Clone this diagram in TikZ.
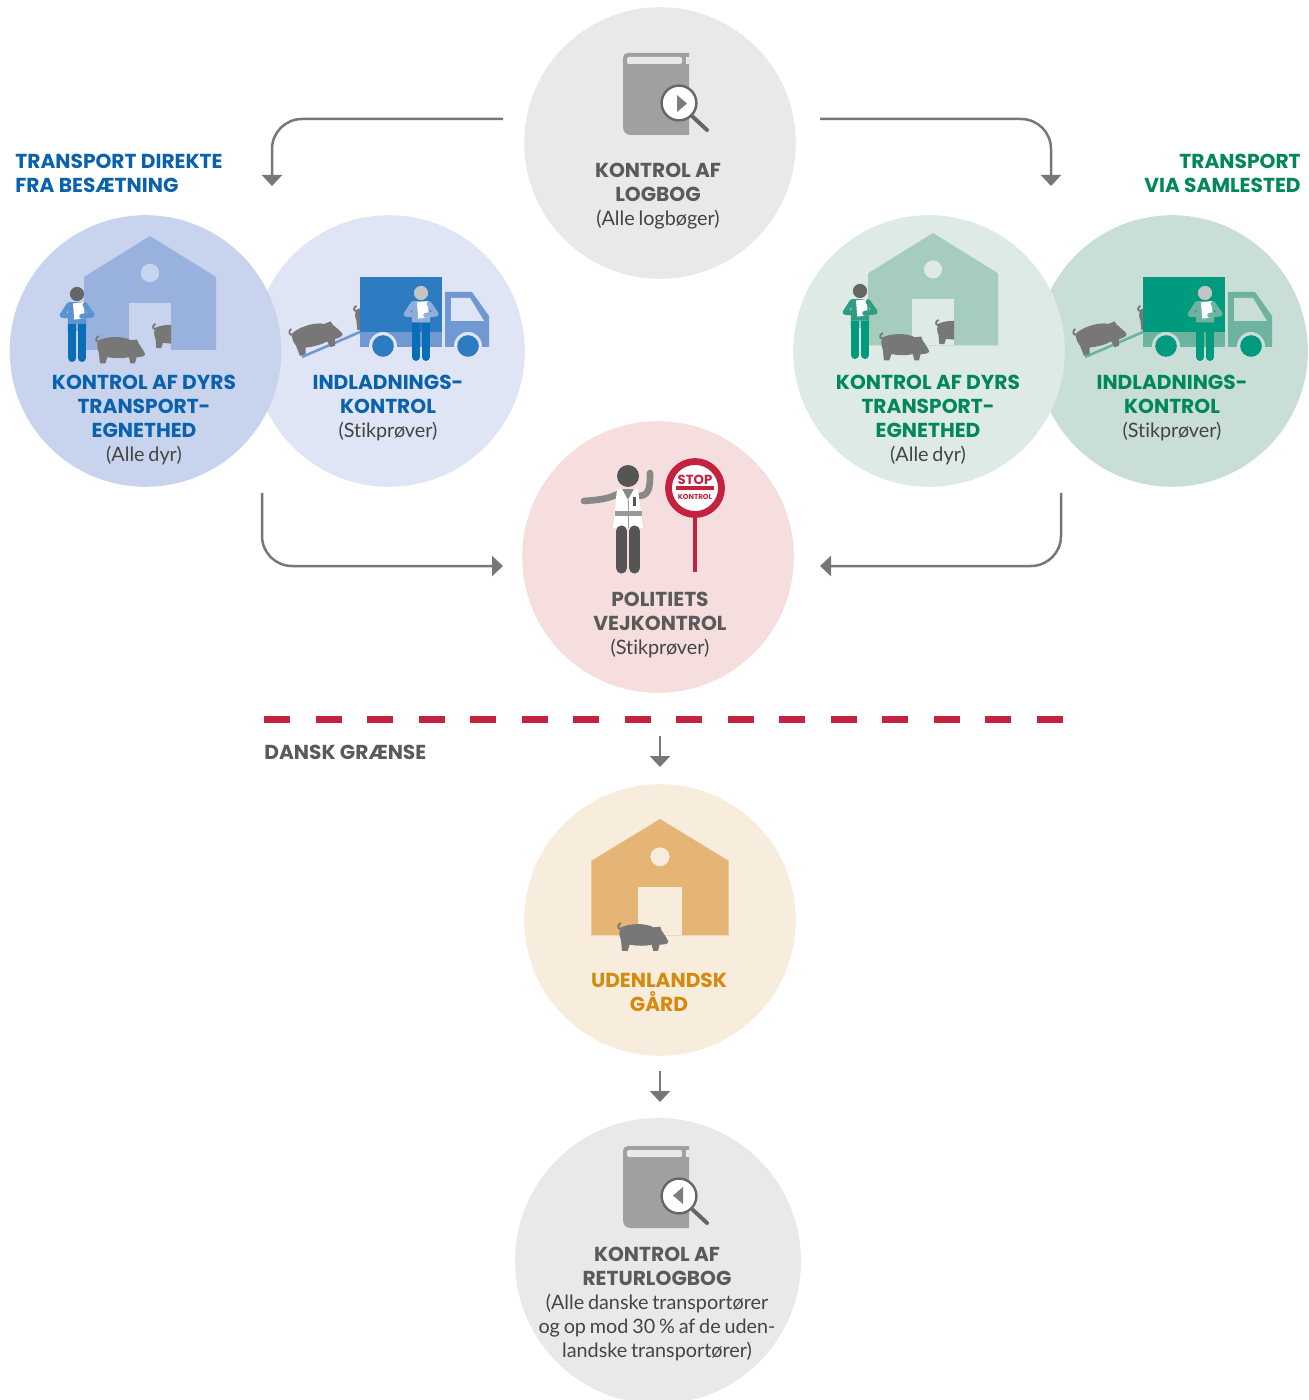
\documentclass[tikz,border=0pt]{standalone}
\usepackage{fontspec}
\setmainfont{Poppins}
\newfontfamily\bodyfont[Ligatures=NoCommon,WordSpace=0.75]{Lato}
\usetikzlibrary{arrows.meta}
\definecolor{cgray}{HTML}{E9E9E9}
\definecolor{cblue}{HTML}{C8D4EE}
\definecolor{clblue}{HTML}{DFE5F5}
\definecolor{cgreen}{HTML}{C8DED6}
\definecolor{clgreen}{HTML}{DEEAE5}
\definecolor{cpink}{HTML}{F5DEDD}
\definecolor{ccream}{HTML}{F8ECDD}
\definecolor{arrowgray}{HTML}{777777}
\definecolor{redc}{HTML}{C4223F}
\definecolor{tblue}{HTML}{0A62AD}
\definecolor{tgreen}{HTML}{00875A}
\definecolor{tgray}{HTML}{5A5A5A}
\definecolor{tbody}{HTML}{444444}
\definecolor{torange}{HTML}{D58A0E}
\definecolor{pigc}{HTML}{777777}
\definecolor{bookc}{HTML}{A0A0A0}
\definecolor{magc}{HTML}{666666}
\definecolor{barnb}{HTML}{99B2DD}
\definecolor{headd}{HTML}{666666}
\definecolor{shirtb}{HTML}{5B92D0}
\definecolor{legb}{HTML}{0A6DB8}
\definecolor{boxb}{HTML}{2D7BC0}
\definecolor{cabb}{HTML}{7099D4}
\definecolor{headl}{HTML}{C4C4C4}
\definecolor{shirtlb}{HTML}{8FAEDC}
\definecolor{barng}{HTML}{A5CCBD}
\definecolor{shirtg}{HTML}{2F9D83}
\definecolor{legg}{HTML}{009A7C}
\definecolor{boxg}{HTML}{009A7E}
\definecolor{cabg}{HTML}{6DB39F}
\definecolor{armp}{HTML}{888888}
\definecolor{beltp}{HTML}{999999}
\definecolor{darkp}{HTML}{555555}
\definecolor{barno}{HTML}{E4B574}
\newcommand{\bodytext}[1]{{\bodyfont\fontsize{9.9}{12}\selectfont\textcolor{tbody}{#1}}}
\tikzset{
  disc/.style={circle,minimum size=135.8pt,inner sep=0pt,fill=#1},
  lab/.style={align=center,inner sep=0pt,font=\fontsize{10.1}{12}\selectfont,text=#1},
  flow/.style={draw=arrowgray,line width=1.25pt,rounded corners=15pt,-{Triangle[length=5.5pt,width=10pt]}},
  pics/pig/.style={code={
    \fill[pigc] (10,17) .. controls (35,4) and (85,2) .. (110,16) -- (130,14) -- (134,26)
      .. controls (143,38) and (150,50) .. (154,58) .. controls (155,65) and (145,68) .. (128,68)
      -- (123,87) -- (109,87) -- (104,68) .. controls (85,73) and (60,72) .. (38,68)
      -- (32,87) -- (15,87) -- (12,55) .. controls (6,40) and (6,28) .. (10,17) -- cycle;
    \draw[pigc,line width=.9pt] (10,20) .. controls (2,22) and (0,8) .. (12,3);
  }},
  pics/barn/.style n args={2}{code={
    \fill[#1] (0,0) -- (66,41) -- (66,114) -- (-66,114) -- (-66,41) -- cycle;
    \fill[#2] (0,37) circle (4.6pt);
    \fill[#2] (-21,67) rectangle (21,114);
  }},
  pics/person/.style n args={3}{code={
    \fill[#1] (0,0) circle [radius=21];
    \fill[#2] (-25,24) -- (25,24) -- (27,88) -- (-27,88) -- cycle;
    \draw[#2,line width=2.5pt,line cap=round,line join=round] (-24,32) -- (-44,63) -- (-10,66);
    \fill[white] (-12,28) -- (20,24) -- (23,72) -- (-8,76) -- cycle;
    \draw[#2,line width=2.5pt,line cap=round,line join=round] (24,32) -- (45,62) -- (14,66);
    \fill[#3] (-27,88) rectangle (-2,110) (2,88) rectangle (27,110);
    \draw[#3,line width=4.1pt,line cap=round] (-14.5,105) -- (-14.5,189) (14.5,105) -- (14.5,189);
  }},
  pics/truck/.style n args={3}{code={
    \fill[#2] (0,55) rectangle (82,70);
    \fill[#2] (85,15) -- (112,15) -- (129,39) -- (129,70) -- (85,70) -- cycle;
    \fill[#3] (91,21) -- (110,21) -- (124,44) -- (91,44) -- cycle;
    \fill[#1] (0,0) rectangle (82,55);
    \fill[#3] (23,69) circle (7pt) (108,69) circle (7pt);
    \fill[#1] (23,69) circle (5.4pt) (108,69) circle (5.4pt);
    \draw[#2,line width=1.3pt] (-58,80) -- (0,55);
  }},
  pics/book/.style={code={
    \fill[bookc] (66,0) -- (5,0) .. controls (2,0) and (0,2) .. (0,5) -- (0,74) .. controls (0,79) and (3,82) .. (8,82) -- (66,82) -- cycle;
    \fill[cgray,rounded corners=1pt] (4,4) rectangle (59,11);
    \fill[cgray] (63,4) rectangle (66,11);
    \draw[line width=2pt,line cap=round,draw=magc] (70,64) -- (84,77);
    \fill[white,draw=magc,line width=1.2pt] (56,50) circle (8.7pt);
  }}
}
\begin{document}
\begin{tikzpicture}[x=.5pt,y=-.5pt]
\clip (0,0) rectangle (1308,1400);
% discs
\node[disc=cgray]   (top)    at (660,143)  {};
\node[disc=clblue]  (lb)     at (389,351)  {};
\node[disc=cblue]   (bl)     at (145.5,351)  {};
\node[disc=cgreen]  (gr)     at (1172,351) {};
\node[disc=clgreen] (lg)     at (929,351)  {};
\node[disc=cpink]   (police) at (658,557)  {};
\node[disc=ccream]  (farm)   at (660,920)  {};
\node[circle,minimum size=143pt,inner sep=0pt,fill=cgray] (ret) at (658,1261) {};
% book icons
\pic at (623,53) {book};
\fill[magc!85] (677,95) -- (687,103.5) -- (677,112) -- cycle;
\pic at (623,1146) {book};
\fill[magc!85] (683,1187) -- (673,1195.5) -- (683,1204) -- cycle;
% blue barn
\pic at (150,236) {barn={barnb}{cblue}};
\begin{scope}
  \clip (129,300) rectangle (171,350);
  \pic[scale=.29] at (152,323) {pig};
\end{scope}
\pic[scale=.338] at (77,294) {person={headd}{shirtb}{legb}};
\pic[scale=.325] at (95,335) {pig};
% blue truck
\pic[scale=.29] at (353,305) {pig};
\pic at (360,277) {truck={boxb}{cabb}{clblue}};
\pic[scale=.338,rotate=16] at (287,329) {pig};
\pic[scale=.338] at (421,293) {person={headl}{shirtlb}{legb}};
% green barn
\pic[scale=.985] at (933,233) {barn={barng}{clgreen}};
\begin{scope}
  \clip (912,297) rectangle (954,345);
  \pic[scale=.29] at (935,319) {pig};
\end{scope}
\pic[scale=.338] at (860,291) {person={headd}{shirtg}{legg}};
\pic[scale=.325] at (879,332) {pig};
% green truck
\pic[scale=.29] at (1137,305) {pig};
\pic at (1143,277) {truck={boxg}{cabg}{cgreen}};
\pic[scale=.338,rotate=16] at (1071,329) {pig};
\pic[scale=.338] at (1205,293) {person={headl}{cabg}{legg}};
% police
\draw[armp,line width=3.3pt,line cap=round] (618,494) .. controls (605,500) and (595,500) .. (584,501);
\draw[armp,line width=3.3pt,line cap=round,line join=round] (640,496) .. controls (650,495) and (650,485) .. (650,473);
\fill[armp] (618,489) rectangle (638,515);
\fill[white] (617,489) -- (622,489) -- (628,500) -- (634,489) -- (638,489) -- (643,528) -- (613,528) -- cycle;
\fill[beltp] (614.5,511) rectangle (641.5,516);
\draw[beltp,line width=.5pt] (628,500) -- (628,528);
\fill[darkp] (633,497) rectangle (636,506);
\fill[darkp] (628,476) circle (5.5pt);
\draw[darkp,line width=5.6pt,line cap=round] (621.5,531) -- (621.5,568) (634.5,531) -- (634.5,568);
\draw[redc,line width=2pt] (695,515) -- (695,572);
\node[circle,draw=redc,line width=3.4pt,fill=white,minimum size=26.5pt,inner sep=0pt] (sign) at (695,488) {};
\fill[redc] (676,486.5) rectangle (714,490.5);
\node[inner sep=0pt,text=redc,font=\fontsize{6.6}{7}\selectfont\bfseries] (stop) at (695,479.5) {STOP};
\node[inner sep=0pt,text=redc,font=\fontsize{3.6}{4}\selectfont\bfseries] (kontrolsign) at (695,497) {KONTROL};
% farm
\pic[xscale=1.04,yscale=1.02] at (660,819) {barn={barno}{ccream}};
\pic[scale=.333] at (617,922) {pig};
% labels
\node[lab=tgray] (t1) at (658,196) {\textbf{KONTROL AF}\\\textbf{LOGBOG}\\\bodytext{(Alle logbøger)}};
\node[lab=tblue] (t2) at (144,420) {\textbf{KONTROL AF DYRS}\\\textbf{TRANSPORT-}\\\textbf{EGNETHED}\\\bodytext{(Alle dyr)}};
\node[lab=tblue] (t3) at (388,408) {\textbf{INDLADNINGS-}\\\textbf{KONTROL}\\\bodytext{(Stikprøver)}};
\node[lab=tgreen] (t4) at (928,420) {\textbf{KONTROL AF DYRS}\\\textbf{TRANSPORT-}\\\textbf{EGNETHED}\\\bodytext{(Alle dyr)}};
\node[lab=tgreen] (t5) at (1172,408) {\textbf{INDLADNINGS-}\\\textbf{KONTROL}\\\bodytext{(Stikprøver)}};
\node[lab=tgray] (t6) at (660,625) {\textbf{POLITIETS}\\\textbf{VEJKONTROL}\\\bodytext{(Stikprøver)}};
\node[lab=torange] (t7) at (659,992) {\textbf{UDENLANDSK}\\\textbf{GÅRD}};
\node[lab=tgray] (t8) at (657,1304) {\textbf{KONTROL AF}\\\textbf{RETURLOGBOG}\\\bodytext{(Alle danske transportører}\\\bodytext{og op mod 30 \% af de uden-}\\\bodytext{landske transportører)}};
\node[lab=tblue,align=left,anchor=west] (t9) at (15,173) {\textbf{TRANSPORT DIREKTE}\\\textbf{FRA BESÆTNING}};
\node[lab=tgreen,align=right,anchor=east] (t10) at (1301,173) {\textbf{TRANSPORT}\\\textbf{VIA SAMLESTED}};
\node[lab=tgray,anchor=west] (t11) at (264,752) {\textbf{DANSK GRÆNSE}};
% connectors
\coordinate (a1) at (503,119); \coordinate (a1e) at (272,186);
\coordinate (a2) at (820,119); \coordinate (a2e) at (1051,186);
\coordinate (a3) at (262,493); \coordinate (a3e) at (503,566);
\coordinate (a4) at (1061,493); \coordinate (a4e) at (820,566);
\coordinate (a5) at (660,736); \coordinate (a5e) at (660,767);
\coordinate (a6) at (660,1071); \coordinate (a6e) at (660,1102);
\draw[flow] (a1) -| (a1e);
\draw[flow] (a2) -| (a2e);
\draw[flow] (a3) |- (a3e);
\draw[flow] (a4) |- (a4e);
\draw[flow] (a5) -- (a5e);
\draw[flow] (a6) -- (a6e);
\coordinate (b1) at (264,719); \coordinate (b2) at (1064,719);
\draw[redc,line width=3.5pt,dash pattern=on 13pt off 12.75pt] (b1) -- (b2);
\end{tikzpicture}
\end{document}
